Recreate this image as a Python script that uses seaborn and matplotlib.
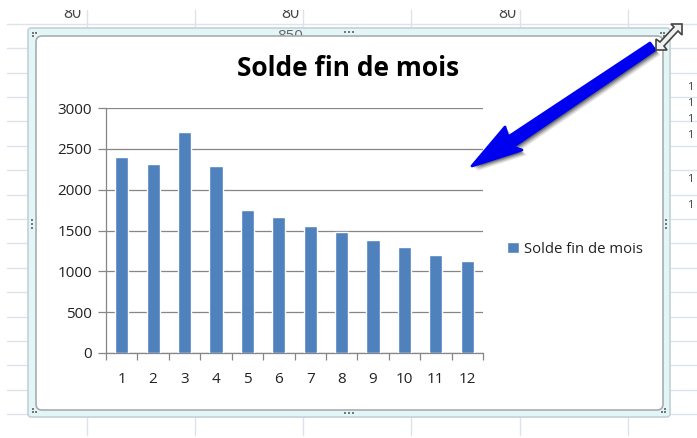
import matplotlib
matplotlib.use("Agg")
import matplotlib.pyplot as plt
import seaborn as sns
import pandas as pd
from matplotlib.patches import FancyBboxPatch, Polygon, Rectangle
from matplotlib.lines import Line2D

months = [1, 2, 3, 4, 5, 6, 7, 8, 9, 10, 11, 12]
solde = [2400, 2320, 2710, 2295, 1745, 1665, 1555, 1485, 1380, 1300, 1200, 1130]
yticks = [0, 500, 1000, 1500, 2000, 2500, 3000]
series_name = "Solde fin de mois"

sns.set_theme(style="white")
plt.rcParams['font.family'] = ['Open Sans', 'DejaVu Sans']
W, H = 697, 438
fig = plt.figure(figsize=(W / 100, H / 100), dpi=100, facecolor="white")

# backdrop in pixel coordinates
bg = fig.add_axes([0, 0, 1, 1], zorder=0)
bg.set_xlim(0, W); bg.set_ylim(H, 0); bg.axis("off")
GRID = "#dde2ef"
for y in [24, 48, 73, 97, 121, 146, 170, 195, 219, 243, 268, 292, 317, 341, 365, 390, 414]:
    bg.add_line(Line2D([7, W], [y, y], color=GRID, lw=1))
for x in [86.5, 194.5, 303, 411, 520, 628]:
    bg.add_line(Line2D([x, x], [10, 435], color=GRID, lw=1))
for x in [72, 290, 507]:
    bg.text(x, 22.5, "80", ha="center", va="bottom", fontsize=11.5, color="#444444", zorder=1)
bg.add_patch(Rectangle((0, 0), W, 10, fc="white", ec="none", zorder=1.5))
bg.text(290, 44, "850", ha="center", va="bottom", fontsize=11, color="#666666")
for y in [88, 104, 120, 136, 180, 206]:
    bg.text(687, y, "1", ha="left", va="center", fontsize=8, color="#444444")

bg.add_patch(FancyBboxPatch((28, 28), 642, 389, boxstyle="round,pad=0,rounding_size=3",
                            fc="#e2f5f7", ec="#c4d2d6", lw=1.2, zorder=2))
bg.add_patch(FancyBboxPatch((36, 36), 627, 374, boxstyle="round,pad=0,rounding_size=6",
                            fc="white", ec="#a9adb0", lw=1.2, zorder=3))
# sizing handles
for hx, hy in [(349, 32), (349, 413), (32, 224), (666, 224)]:
    horiz = hy in (32, 413)
    for k in (-4, 0, 4):
        bg.add_patch(Rectangle((hx + (k if horiz else 0) - .8, hy + (0 if horiz else k) - .8), 1.6, 1.6,
                               fc="#777777", ec="none", zorder=4))
for hx, hy in [(33, 33), (33, 412), (665, 412), (664, 33)]:
    for dx, dy in [(0, 0), (3, 0), (0, 3)]:
        sx = 1 if hx < 100 else -1
        sy = 1 if hy < 100 else -1
        bg.add_patch(Rectangle((hx + sx * dx - .8, hy + sy * dy - .8), 1.6, 1.6,
                               fc="#777777", ec="none", zorder=4))

# chart
ax = fig.add_axes([106 / W, 1 - 353 / H, (483 - 106) / W, (353 - 108) / H], zorder=2)
ax.patch.set_alpha(0)
df = pd.DataFrame({"mois": months, "solde": solde})
sns.barplot(data=df, x="mois", y="solde", color="#4f81bd", saturation=1, width=0.42,
            ax=ax, label=series_name, zorder=3)
ax.set_xlim(-0.5, 11.5)
ax.set_ylim(0, 3000)
ax.set_yticks(yticks)
ax.set_xticks([i - 0.5 for i in range(13)], minor=True)
ax.set_xticks(range(12))
ax.set_xticklabels([str(m) for m in months])
ax.set_xlabel(""); ax.set_ylabel("")
ax.grid(False)
ax.yaxis.grid(True, color="#868686", lw=0.9)
ax.set_axisbelow(True)
for s in ["top", "right"]:
    ax.spines[s].set_visible(False)
for s in ["left", "bottom"]:
    ax.spines[s].set_visible(True)
    ax.spines[s].set_color("#868686")
    ax.spines[s].set_linewidth(0.9)
ax.tick_params(axis="y", length=6, width=0.9, color="#868686", labelsize=11, labelcolor="#222222", pad=4, left=True)
ax.tick_params(axis="x", which="major", length=0, labelsize=11, labelcolor="#222222", pad=14)
ax.tick_params(axis="x", which="minor", length=5, width=0.9, color="#868686", bottom=True)

fig.text(348 / W, 1 - 68 / H, series_name, ha="center", va="center",
         fontsize=19, fontweight="bold", color="black")
handles, labels = ax.get_legend_handles_labels()
if ax.get_legend() is not None:
    ax.get_legend().remove()
fig.legend(handles, labels, loc="center left", bbox_to_anchor=(507 / W, 1 - 249 / H), frameon=False,
           fontsize=10.7, handlelength=0.8, handleheight=0.8, handletextpad=0.35, labelcolor="#222222",
           borderpad=0, borderaxespad=0)

# overlay arrow and cursor
ov = fig.add_axes([0, 0, 1, 1], zorder=5)
ov.set_xlim(0, W); ov.set_ylim(H, 0); ov.axis("off"); ov.patch.set_alpha(0)
arrow = [(650, 43), (655, 50), (513, 147), (522, 150), (472, 166), (505, 127), (508, 137)]
for off, a in [(5, .10), (4, .14), (3, .2), (2, .28)]:
    ov.add_patch(Polygon([(x + off, y + off) for x, y in arrow], fc="black", ec="none", alpha=a))
ov.add_patch(Polygon(arrow, fc="#0000f0", ec="#0000f0", lw=2, joinstyle="round"))
cursor = [(682, 24), (682, 35), (678, 31), (664, 46), (667, 50), (656, 50), (656, 39), (660, 42), (674, 27), (671, 24)]
ov.add_patch(Polygon(cursor, fc="#f0f0f0", ec="#444444", lw=1.2))

fig.savefig("out.png", dpi=100)
